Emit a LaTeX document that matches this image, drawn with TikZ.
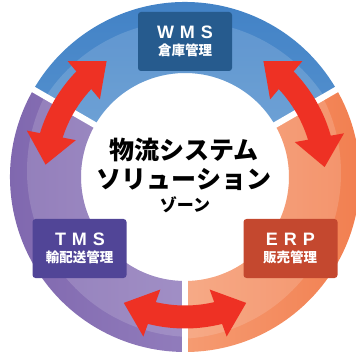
\documentclass[tikz,border=0pt]{standalone}
\usepackage{fontspec}
\setmainfont{Noto Sans CJK JP}
\newfontfamily\latinfont{Liberation Sans}
\usetikzlibrary{calc,arrows.meta,bending}
\definecolor{wmsbox}{HTML}{265B8E}
\definecolor{tmsbox}{HTML}{514597}
\definecolor{erpbox}{HTML}{C4482F}
\definecolor{bluedark}{HTML}{4282C6}
\definecolor{bluelight}{HTML}{74ABDD}
\definecolor{purpdark}{HTML}{8068AF}
\definecolor{purplight}{HTML}{A290C8}
\definecolor{orangelight}{HTML}{F9B894}
\definecolor{orangedark}{HTML}{F27F50}
\definecolor{swapred}{HTML}{EE3124}

\newcommand{\sector}[2]{($(c)+(#1:175)$) arc[start angle=#1,end angle=#2,radius=175]
  -- ($(c)+(#2:104)$) arc[start angle=#2,end angle=#1,radius=104] -- cycle}

\begin{document}
\begin{tikzpicture}[x=1pt,y=1pt,
    box/.style={rounded corners=3pt,minimum width=94pt,minimum height=59pt,fill=#1},
    code/.style={text=white,font=\latinfont\bfseries\fontsize{18}{18}\selectfont},
    task/.style={text=white,font=\bfseries\fontsize{13.5}{14}\selectfont},
    swap/.style={draw=swapred,line width=23pt,
      {Triangle[width=48pt,length=30pt,flex]}-{Triangle[width=48pt,length=30pt,flex]}}]
  \clip (0,0) rectangle (356,351);
  \coordinate (c) at (185,174);

  \begin{scope}
    \clip \sector{30}{150};
    \shade[top color=bluedark,bottom color=bluelight] (c) circle[radius=176];
    \fill[white,opacity=0.15] ($(c)+(0,-10)$) circle[radius=166];
  \end{scope}
  \begin{scope}
    \clip \sector{150}{270};
    \shade[left color=purpdark,right color=purplight] (c) circle[radius=176];
    \fill[white,opacity=0.15] ($(c)+(8,6)$) circle[radius=166];
  \end{scope}
  \begin{scope}
    \clip \sector{270}{390};
    \shade[left color=orangelight,right color=orangedark] (c) circle[radius=176];
    \fill[white,opacity=0.15] ($(c)+(-10,4)$) circle[radius=166];
  \end{scope}
  \foreach \a in {30,150,270}
    \draw[white,line width=6pt] ($(c)+(\a:98)$) -- ($(c)+(\a:182)$);

  \node[box=wmsbox] (wms) at (185,309.5) {};
  \node[code] (wms-code) at (185,319) {W\hspace{6pt}M\hspace{6pt}S};
  \node[task] (wms-task) at (185,301) {倉庫管理};
  \node[box=tmsbox] (tms) at (79.5,102.5) {};
  \node[code] (tms-code) at (80,112) {T\hspace{6pt}M\hspace{6pt}S};
  \node[task] (tms-task) at (79.5,93.5) {輸配送管理};
  \node[box=erpbox] (erp) at (290.5,102.5) {};
  \node[code] (erp-code) at (290.5,112) {E\hspace{6pt}R\hspace{6pt}P};
  \node[task] (erp-task) at (290,93.5) {販売管理};

  \node[font=\bfseries\fontsize{25}{25}\selectfont] (zone1) at (184,201) {物流システム};
  \node[font=\bfseries\fontsize{25}{25}\selectfont] (zone2) at (184,171) {ソリューション};
  \node[font=\bfseries\fontsize{17}{17}\selectfont] (zone3) at (185,146) {ゾーン};

  \coordinate (tms-a) at ($(c)+(175:140)$);
  \coordinate (wms-a) at ($(c)+(124:140)$);
  \coordinate (wms-b) at ($(c)+(56:140)$);
  \coordinate (erp-a) at ($(c)+(4:140)$);
  \coordinate (erp-b) at ($(c)+(296:140)$);
  \coordinate (tms-b) at ($(c)+(244:140)$);
  \draw[swap] (tms-a) arc[start angle=175,end angle=124,radius=140];
  \draw[swap] (wms-b) arc[start angle=56,end angle=4,radius=140];
  \draw[swap] (tms-b) arc[start angle=244,end angle=296,radius=140];
\end{tikzpicture}
\end{document}
